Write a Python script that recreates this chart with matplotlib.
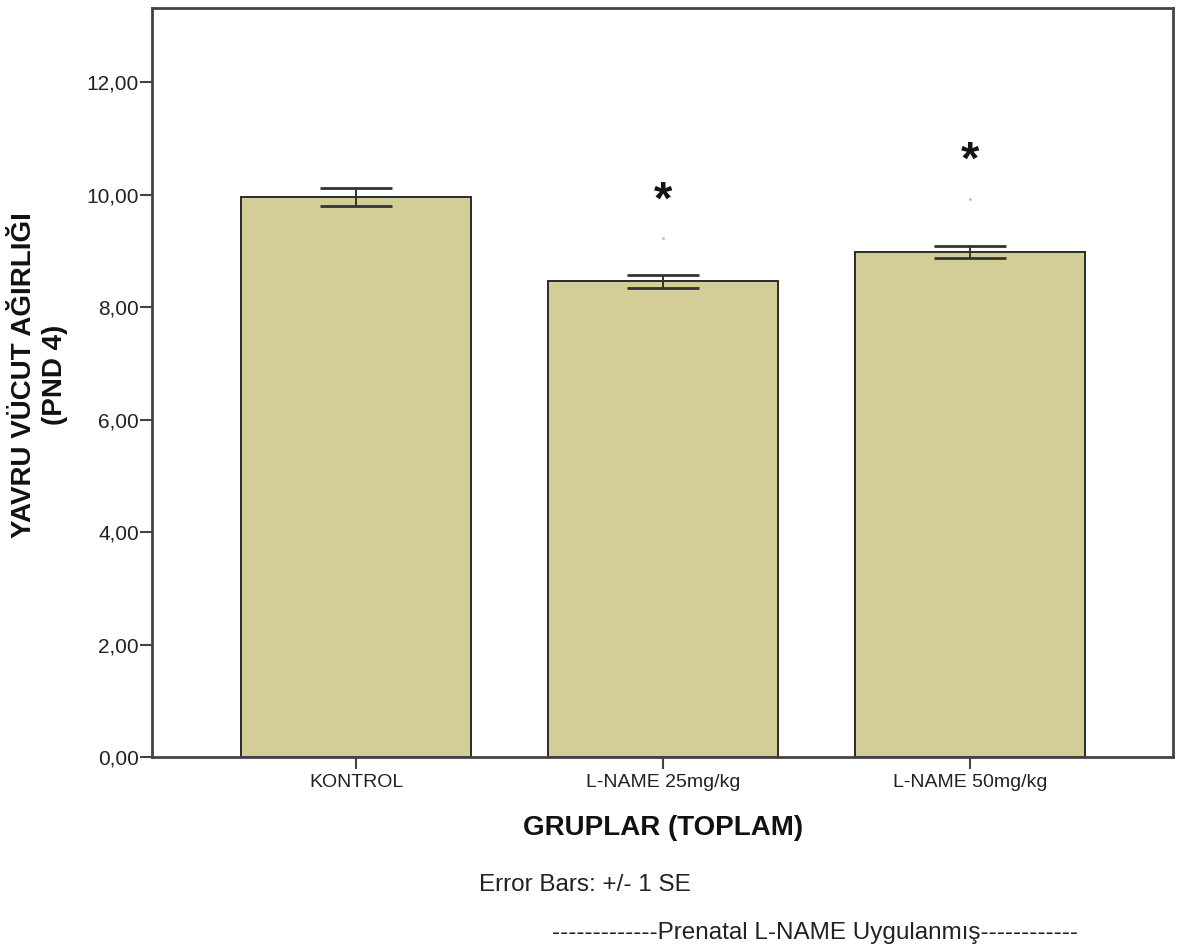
import matplotlib
matplotlib.use("Agg")
import matplotlib.pyplot as plt
import matplotlib.transforms as mtransforms

plt.rcParams['font.family'] = ['Liberation Sans', 'DejaVu Sans']

# data
groups = ['KONTROL', 'L-NAME 25mg/kg', 'L-NAME 50mg/kg']
means = [9.96, 8.46, 8.98]
se = [0.16, 0.115, 0.11]
star_y = [None, 9.99, 10.70]
dot_y = [None, 9.23, 9.92]
yticks = [0, 2, 4, 6, 8, 10, 12]

bar_color = '#D3CD97'
edge_color = '#2b2b2b'
spine_color = '#444444'

fig = plt.figure(figsize=(11.85, 9.5), dpi=100)
ax = fig.add_axes([152 / 1185, 1 - 757 / 950, (1173 - 152) / 1185, (757 - 8) / 950])

x = list(range(len(groups)))
ax.bar(x, means, width=0.75, color=bar_color, edgecolor=edge_color, linewidth=1.4, zorder=2)
ax.errorbar(x, means, yerr=se, fmt='none', ecolor='#333333', elinewidth=1.4,
            capsize=26, capthick=2.0, zorder=3)

# significance stars and the faint dots under them
star_shift = mtransforms.offset_copy(ax.transData, fig=fig, x=0, y=-7, units='dots')
for xi, sy, dy in zip(x, star_y, dot_y):
    if sy is None:
        continue
    ax.text(xi, sy, '*', ha='center', va='center', fontsize=34, fontweight='bold',
            color='#151515', zorder=4, transform=star_shift)
    ax.plot(xi, dy, marker='.', markersize=2, color='#bbbbbb', zorder=4)

ax.set_xlim(-0.665, 2.66)
ax.set_ylim(0, 13.316)
ax.set_yticks(yticks)
ax.set_yticklabels([f"{v:.2f}".replace('.', ',') for v in yticks])
ax.set_xticks(x)
ax.set_xticklabels(groups)

for side in ['left', 'right', 'top', 'bottom']:
    ax.spines[side].set_color(spine_color)
    ax.spines[side].set_linewidth(2.0)
ax.tick_params(axis='both', direction='out', length=8.5, width=1.5, color=spine_color,
               labelcolor='#222222')
ax.tick_params(axis='x', pad=4, labelsize=14)
ax.tick_params(axis='y', pad=1, labelsize=15)

fig.text(40 / 1185, 1 - 375 / 950, 'YAVRU VÜCUT AĞIRLIĞI\n(PND 4)', rotation=90,
         ha='center', va='center', fontsize=20, fontweight='bold', multialignment='center',
         linespacing=1.25, color='#111111')
fig.text(663 / 1185, 1 - 828 / 950, 'GRUPLAR (TOPLAM)', ha='center', va='center',
         fontsize=20, fontweight='bold', color='#111111')
fig.text(585 / 1185, 1 - 885 / 950, 'Error Bars: +/- 1 SE', ha='center', va='center',
         fontsize=17.5, color='#222222')
fig.text(815 / 1185, 1 - 933 / 950, '-------------Prenatal L-NAME Uygulanmış------------',
         ha='center', va='center', fontsize=17.5, color='#222222')

fig.savefig('out.png', dpi=100, facecolor='white')
